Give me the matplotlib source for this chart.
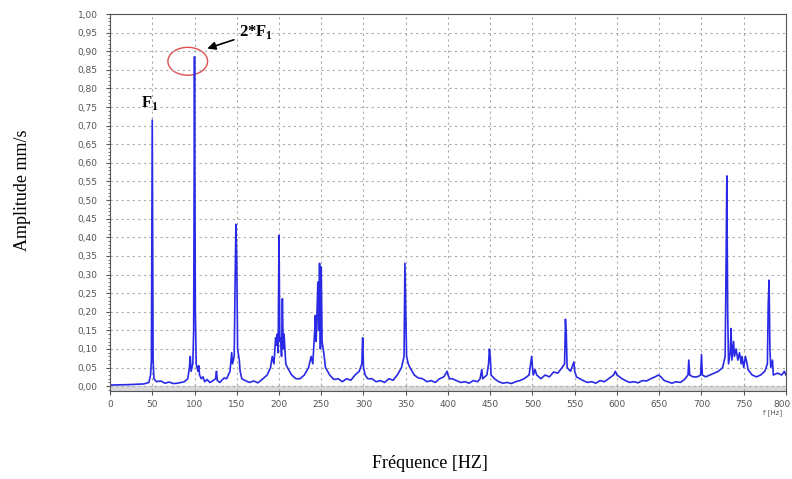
import matplotlib.pyplot as plt
from matplotlib.patches import Ellipse
from matplotlib.ticker import MultipleLocator, FuncFormatter

plt.rcParams["mathtext.fontset"] = "custom"
plt.rcParams["mathtext.bf"] = "Liberation Serif:bold"
plt.rcParams["mathtext.rm"] = "Liberation Serif"

# spectrum (Hz, mm/s)
freq = [0, 20, 40, 46, 48, 49, 50, 51, 52, 55, 60, 65, 70, 75, 80, 88, 92, 94, 95, 96, 98, 99,
        100, 101, 102, 104, 105, 106, 108, 110, 112, 115, 118, 120, 125, 126, 127, 130, 132, 135, 138, 142,
        144, 145, 147, 148, 149, 150, 151, 153, 154, 156, 160, 165, 170, 175, 180, 186, 190, 192,
        194, 196, 197, 198, 199, 200, 201, 202, 203, 204, 205, 206, 208, 210, 215, 220,
        225, 230, 235, 238, 240, 242, 243, 244, 246, 247, 248, 249, 250, 251, 253, 255,
        260, 265, 270, 275, 280, 285, 290, 295, 298, 299, 300, 302, 305, 310, 315, 320, 325, 330, 335, 340, 345, 348, 349,
        350, 351, 353, 355, 360, 365, 370, 375, 380, 385, 390, 395, 399, 400, 402, 405, 410, 415, 420, 425, 430,
        435, 438, 440, 441, 446, 448, 449, 450, 451, 455, 460, 465, 470, 475, 480, 485, 490, 496, 499, 500,
        501, 503, 505, 510, 515, 520, 525, 530, 535, 538, 539, 540, 541, 545, 549, 550, 552, 556, 560,
        565, 570, 575, 580, 585, 590, 596, 598, 600, 603, 606, 610, 615, 620, 625, 630, 635, 640, 645, 649, 652, 656, 660, 665, 670,
        675, 680, 684, 685, 686, 690, 695, 699, 700, 701, 705, 710, 715, 720, 725, 728, 729,
        730, 731, 732, 734, 735, 736, 738, 739, 741, 743, 745, 747, 748, 750, 752, 754,
        755, 760, 765, 770, 775, 778, 779, 780, 781, 782, 784, 785, 790, 795, 798, 800]
amp = [0.003, 0.004, 0.006, 0.01, 0.03, 0.07, 0.715, 0.07, 0.02, 0.012, 0.014, 0.008, 0.011, 0.007, 0.008, 0.012, 0.02, 0.05, 0.08, 0.04, 0.06, 0.15,
       0.885, 0.2, 0.06, 0.04, 0.055, 0.03, 0.02, 0.025, 0.012, 0.018, 0.01, 0.012, 0.02, 0.04, 0.015, 0.01, 0.015, 0.022, 0.02, 0.04,
       0.09, 0.06, 0.08, 0.27, 0.435, 0.34, 0.1, 0.07, 0.04, 0.02, 0.015, 0.01, 0.014, 0.009, 0.018, 0.03, 0.05, 0.08,
       0.06, 0.13, 0.11, 0.14, 0.09, 0.405, 0.12, 0.13, 0.08, 0.235, 0.1, 0.14, 0.06, 0.05, 0.03, 0.02,
       0.02, 0.03, 0.05, 0.08, 0.06, 0.14, 0.19, 0.12, 0.28, 0.15, 0.33, 0.1, 0.32, 0.12, 0.09, 0.05,
       0.03, 0.018, 0.02, 0.012, 0.02, 0.016, 0.03, 0.04, 0.06, 0.13, 0.05, 0.03, 0.02, 0.02, 0.012, 0.015, 0.01, 0.02, 0.016, 0.03, 0.05, 0.08, 0.33,
       0.2, 0.08, 0.06, 0.05, 0.03, 0.022, 0.02, 0.012, 0.015, 0.01, 0.02, 0.025, 0.04, 0.03, 0.02, 0.02, 0.015, 0.01, 0.012, 0.008, 0.015,
       0.012, 0.02, 0.045, 0.02, 0.03, 0.06, 0.10, 0.08, 0.03, 0.02, 0.012, 0.008, 0.01, 0.007, 0.012, 0.015, 0.02, 0.03, 0.08, 0.05,
       0.03, 0.045, 0.03, 0.02, 0.03, 0.025, 0.038, 0.035, 0.05, 0.06, 0.18, 0.14, 0.05, 0.04, 0.065, 0.04, 0.025, 0.02, 0.015,
       0.01, 0.012, 0.008, 0.015, 0.012, 0.02, 0.03, 0.04, 0.03, 0.025, 0.02, 0.015, 0.01, 0.012, 0.009, 0.015, 0.014, 0.02, 0.025, 0.03, 0.025, 0.015, 0.012, 0.008, 0.012,
       0.01, 0.018, 0.03, 0.07, 0.03, 0.025, 0.025, 0.03, 0.085, 0.03, 0.025, 0.03, 0.035, 0.04, 0.05, 0.08, 0.3,
       0.565, 0.2, 0.06, 0.09, 0.155, 0.07, 0.12, 0.08, 0.1, 0.07, 0.09, 0.06, 0.08, 0.05, 0.08, 0.06,
       0.045, 0.03, 0.025, 0.03, 0.04, 0.06, 0.22, 0.285, 0.1, 0.05, 0.07, 0.03, 0.035, 0.03, 0.04, 0.03]

fig = plt.figure(figsize=(7.92, 4.79), dpi=100)
ax = fig.add_axes([0.1389, 0.1837, 0.8535, 0.787])

ax.plot(freq, amp, color="#2a2ae6", lw=1.2)
ax.axhspan(-0.013, 0, color="#d8d8d8", zorder=0)

ax.set_xlim(0, 800)
ax.set_ylim(-0.013, 1.0)
ax.xaxis.set_major_locator(MultipleLocator(50))
ax.xaxis.set_major_formatter(FuncFormatter(lambda v, p: "" if v >= 800 else f"{v:.0f}"))
ax.yaxis.set_major_locator(MultipleLocator(0.05))
ax.yaxis.set_minor_locator(MultipleLocator(0.01))
ax.yaxis.set_major_formatter(FuncFormatter(lambda v, p: f"{v:.2f}".replace(".", ",")))
ax.tick_params(labelsize=6.5, labelcolor="#555555", color="#555555", length=3)
ax.tick_params(axis="y", pad=6)
ax.tick_params(which="minor", length=1.5, color="#555555")
ax.grid(True, linestyle=(0, (2, 3)), color="#aaaaaa", lw=0.8)
for s in ax.spines.values():
    s.set_color("#555555")

# last x label pulled inside the figure edge
ax.annotate("800", xy=(800, 0), xycoords=("data", "axes fraction"),
            xytext=(3, -6.5), textcoords="offset points", ha="right", va="top",
            fontsize=6.5, color="#555555")

# annotations
ax.add_patch(Ellipse((92, 0.873), 47, 0.075, fill=False, ec="#e05050", lw=1.0))
ax.annotate("2*F$_\\mathbf{1}$", xy=(112, 0.905), xytext=(153, 0.94),
            fontsize=12, fontweight="bold", family="Liberation Serif",
            arrowprops=dict(arrowstyle="-|>", color="black", lw=1.2))
ax.text(47, 0.76, "F$_\\mathbf{1}$", fontsize=12, fontweight="bold",
        family="Liberation Serif", ha="center", va="center")

fig.text(0.975, 0.135, "f [Hz]", fontsize=5, color="#555555", ha="center")
fig.text(0.543, 0.033, "Fréquence [HZ]", fontsize=13, family="Liberation Serif",
         ha="center", va="center")
fig.text(0.028, 0.603, "Amplitude mm/s", fontsize=13, family="Liberation Serif",
         rotation=90, ha="center", va="center")

fig.savefig("out.png", dpi=100)
